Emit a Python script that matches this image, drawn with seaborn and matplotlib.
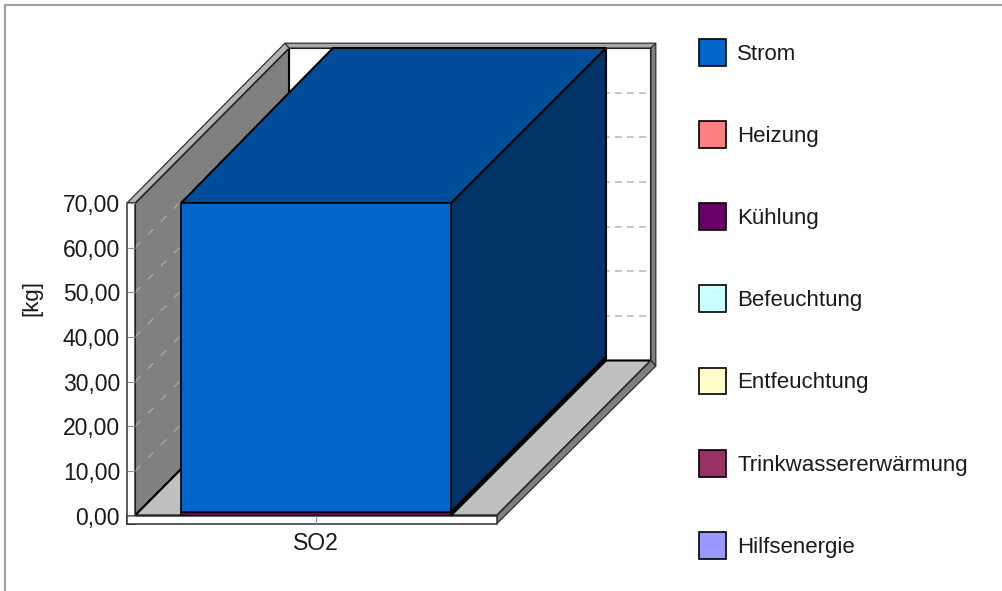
import matplotlib
matplotlib.use("Agg")
import matplotlib.pyplot as plt
from matplotlib.patches import Polygon, Rectangle
import pandas as pd
import seaborn as sns

# ---- data ----
categories = ["SO2"]
series_names = ["Strom", "Heizung", "Kühlung", "Befeuchtung", "Entfeuchtung",
                "Trinkwassererwärmung", "Hilfsenergie"]
series_values = [69.2, 0.0, 0.8, 0.0, 0.0, 0.0, 0.0]
series_colors = ["#0066CC", "#FF8080", "#660066", "#CCFFFF", "#FFFFCC", "#993366", "#9999FF"]
y_ticks = [0, 10, 20, 30, 40, 50, 60, 70]
y_tick_labels = ["0,00", "10,00", "20,00", "30,00", "40,00", "50,00", "60,00", "70,00"]
y_label = "[kg]"

# ---- layout, in pixels of the 1002x591 image ----
W, H = 1002, 591
PX_L, PX_R, PX_B, PX_T = 135, 497, 515.5, 203
DEPTH_X, DEPTH_Y = 154, 155     # oblique depth of the box
WALL = 8                        # thickness of the walls
BAR_WIDTH = 270 / 362
BAR_DEPTH_LEFT = 152 / 154
BAR_DEPTH_RIGHT = 155 / 154

sns.set_theme(style="white")
plt.rcParams["font.family"] = ["Liberation Sans", "DejaVu Sans"]
FS_TICK = 16.5
FS_LEG = 16

fig = plt.figure(figsize=(W / 100, H / 100), dpi=100, facecolor="white")
ax = fig.add_axes([PX_L / W, 1 - PX_B / H, (PX_R - PX_L) / W, (PX_B - PX_T) / H])

XMIN, XMAX, YMIN, YMAX = -0.5, 0.5, 0, 70
sx = (XMAX - XMIN) / (PX_R - PX_L)
sy = (YMAX - YMIN) / (PX_B - PX_T)
ddx, ddy = DEPTH_X * sx, DEPTH_Y * sy


def poly(points, z, face, edge="black", lw=1.5):
    ax.add_patch(Polygon(points, closed=True, facecolor=face, edgecolor=edge,
                         linewidth=lw, clip_on=False, zorder=z, joinstyle="miter"))


# ---- stacked bars through seaborn (stack runs from the last series upward) ----
df = pd.DataFrame({"cat": categories * len(series_names), "name": series_names,
                   "value": series_values, "color": series_colors})
bottom = 0.0
stack = []
for _, row in df.iloc[::-1].iterrows():
    sns.barplot(data=df[df["name"] == row["name"]], x="cat", y="value", color=row["color"],
                saturation=1, width=BAR_WIDTH, bottom=bottom, edgecolor="black", linewidth=1.2,
                label=row["name"], ax=ax, errorbar=None, zorder=5)
    stack.append((bottom, row["value"], row["color"]))
    bottom += row["value"]

ax.set_xlim(XMIN, XMAX)
ax.set_ylim(YMIN, YMAX)
ax.patch.set_alpha(0)
for s in ax.spines.values():
    s.set_visible(False)

# ---- box: back wall, left wall, floor ----
x0, x1 = XMIN, XMAX
t = WALL * sx
tv = WALL * sy
RIM = "#303030"
poly([(x0 + ddx, ddy), (x1 + ddx, ddy), (x1 + ddx, 70 + ddy), (x0 + ddx, 70 + ddy)], 0.2, "white")
poly([(x0, 0), (x0 + ddx, ddy), (x0 + ddx, 70 + ddy), (x0, 70)], 0.3, "#808080")
poly([(x0, 0), (x0 + ddx, ddy), (x1 + ddx, ddy), (x1, 0)], 0.3, "#C0C0C0")

# wall rims
poly([(x0 - t, 70), (x0, 70), (x0 + ddx, 70 + ddy), (x0 + ddx - t / 2, 70 + ddy + tv * 0.6)],
     0.4, "#B4B4B4", RIM, 0.9)
poly([(x0 + ddx - t / 2, 70 + ddy + tv * 0.6), (x1 + ddx + t * 0.6, 70 + ddy + tv * 0.6),
      (x1 + ddx, 70 + ddy), (x0 + ddx, 70 + ddy)], 0.4, "#A8A8A8", RIM, 0.9)
poly([(x1 + ddx, ddy), (x1 + ddx + t * 0.6, ddy - tv * 0.7),
      (x1 + ddx + t * 0.6, 70 + ddy + tv * 0.6), (x1 + ddx, 70 + ddy)], 0.4, "#808080", RIM, 0.9)
poly([(x1, 0), (x1 + ddx, ddy), (x1 + ddx + t * 0.6, ddy - tv * 0.7), (x1, -tv)], 0.4, "#808080", RIM, 0.9)
poly([(x0 - t, 70), (x0, 70), (x0, -tv), (x0 - t, -tv)], 0.45, "white", RIM, 1.1)
poly([(x0 - t, 0), (x1, 0), (x1, -tv), (x0 - t, -tv)], 0.45, "white", RIM, 1.1)

# ---- grid lines on the walls ----
for v in y_ticks[1:-1]:
    ax.plot([x0, x0 + ddx], [v, v + ddy], color="#A6A6A6", lw=1.1, ls=(0, (5, 7)), clip_on=False, zorder=0.35)
    ax.plot([x0 + ddx, x1 + ddx], [v + ddy, v + ddy], color="#B8B8B8", lw=1.1, ls=(0, (4.6, 3.3)),
            clip_on=False, zorder=0.25)

# ---- depth faces of the bars ----
left = -BAR_WIDTH / 2
right = BAR_WIDTH / 2
bdl = ddx * BAR_DEPTH_LEFT
bdr = ddx * BAR_DEPTH_RIGHT


def darker(color, f):
    r, g, b = matplotlib.colors.to_rgb(color)
    return (r * f, g * f, b * f)


top_seg = None
for b, v, c in stack:
    if v > 0:
        poly([(right, b), (right + bdr, b + ddy), (right + bdr, b + v + ddy), (right, b + v)], 1.0, darker(c, 0.5))
        top_seg = (b, v, c)
b, v, c = top_seg
poly([(left, b + v), (right, b + v), (right + bdr, b + v + ddy), (left + bdl, b + v + ddy)], 1.1, darker(c, 0.75))

# ---- ticks and labels ----
ax.set_xlabel("")
ax.set_ylabel(y_label, fontsize=FS_LEG, color="#1a1a1a")
ax.yaxis.set_label_coords((42 - PX_L) / (PX_R - PX_L), (PX_B - 298) / (PX_B - PX_T))
ax.set_yticks(y_ticks, y_tick_labels)
ax.tick_params(axis="both", which="major", direction="out", length=WALL * 0.72, width=0.8,
               color="#909090", labelsize=FS_TICK, labelcolor="#1a1a1a", left=True, bottom=True, pad=5)
ax.tick_params(axis="x", pad=6)
ax.set_axisbelow(False)

# ---- legend ----
handles, labels = ax.get_legend_handles_labels()
order = [labels.index(n) for n in series_names]
leg = ax.legend([handles[i] for i in order], [labels[i] for i in order],
                loc="upper left", bbox_to_anchor=(699 / W, 1 - 39 / H), bbox_transform=fig.transFigure,
                frameon=False, fontsize=FS_LEG, handlelength=1.21, handleheight=1.48, handletextpad=0.52,
                labelspacing=2.49, borderpad=0, borderaxespad=0)
for t_ in leg.get_texts():
    t_.set_color("#1a1a1a")

# ---- outer frame ----
fig.add_artist(Rectangle((4.5 / W, -0.1), 1.2, 1.1 - 4.5 / H, transform=fig.transFigure,
                         facecolor="none", edgecolor="#A0A0A0", linewidth=1.5))

fig.savefig("out.png", dpi=100)
